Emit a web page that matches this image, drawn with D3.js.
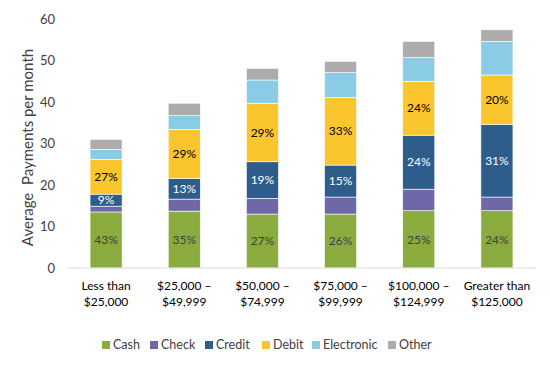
<!DOCTYPE html>
<html>
<head>
<meta charset="utf-8">
<script src="https://cdn.jsdelivr.net/npm/d3@7"></script>
<style>
  body { margin: 0; background: #fff; }
  text { font-family: Lato, "Noto Sans", sans-serif; }
</style>
</head>
<body>
<div id="chart"></div>
<script>
// income groups (two label lines each)
var categories = ["Less than|$25,000", "$25,000 –|$49,999", "$50,000 –|$74,999",
                  "$75,000 –|$99,999", "$100,000 –|$124,999", "Greater than|$125,000"];
var seriesNames = ["Cash", "Check", "Credit", "Debit", "Electronic", "Other"];
var colors = ["#8aac3e", "#6e68a9", "#2e5d8b", "#fbc52d", "#8acce6", "#acacac"];

var cash       = [13.5, 13.7, 13.0, 13.0, 13.8, 13.8];
var check      = [1.4, 2.9, 3.8, 4.1, 5.2, 3.3];
var credit     = [2.9, 5.0, 8.8, 7.7, 13.0, 17.5];
var debit      = [8.4, 11.8, 14.1, 16.3, 13.0, 11.9];
var electronic = [2.4, 3.3, 5.6, 6.0, 5.7, 8.1];
var other      = [2.4, 3.0, 2.8, 2.7, 3.9, 2.8];

var cashPct   = ["43%", "35%", "27%", "26%", "25%", "24%"];
var creditPct = ["9%", "13%", "19%", "15%", "24%", "31%"];
var debitPct  = ["27%", "29%", "29%", "33%", "24%", "20%"];
var yTicks = [0, 10, 20, 30, 40, 50, 60];

var W = 550, H = 365;
var margin = {top: 19, right: 14, bottom: 97, left: 67};

var svg = d3.select("#chart").append("svg").attr("width", W).attr("height", H);

var rows = categories.map(function(c, i) {
  return {cat: c, Cash: cash[i], Check: check[i], Credit: credit[i], Debit: debit[i],
          Electronic: electronic[i], Other: other[i],
          cashPct: cashPct[i], creditPct: creditPct[i], debitPct: debitPct[i]};
});

var x = d3.scaleBand().domain(categories)
  .range([margin.left, W - margin.right]).paddingInner(0.59).paddingOuter(0.295);
var y = d3.scaleLinear().domain([0, 60]).range([H - margin.bottom, margin.top]);

var stack = d3.stack().keys(seriesNames)(rows);

// y axis labels
svg.append("g").selectAll("text").data(yTicks).enter().append("text")
  .attr("x", 55).attr("y", function(d) { return y(d); })
  .attr("dy", "0.35em").attr("text-anchor", "end")
  .attr("font-size", 13).attr("fill", "#404040")
  .text(function(d) { return d; });

svg.append("text")
  .attr("transform", "translate(33," + ((y(0) + y(60)) / 2 + 4) + ") rotate(-90)")
  .attr("text-anchor", "middle").attr("font-size", 15).attr("fill", "#404040")
  .attr("xml:space", "preserve")
  .text("Average  Payments per month");

// stacked bars
var layers = svg.append("g").selectAll("g").data(stack).enter().append("g")
  .attr("fill", function(d, i) { return colors[i]; });

layers.selectAll("rect").data(function(d) { return d; }).enter().append("rect")
  .attr("x", function(d) { return x(d.data.cat); })
  .attr("width", x.bandwidth())
  .attr("y", function(d) { return y(d[1]); })
  .attr("height", function(d) { return y(d[0]) - y(d[1]); })
  .attr("stroke", "#fff").attr("stroke-width", 0.6);

// baseline
svg.append("line")
  .attr("x1", margin.left).attr("x2", W - margin.right)
  .attr("y1", y(0)).attr("y2", y(0))
  .attr("stroke", "#d9d9d9").attr("stroke-width", 1);

// percentage labels
var pctSpecs = [
  {key: "Cash", idx: 0, field: "cashPct", color: "#404040"},
  {key: "Credit", idx: 2, field: "creditPct", color: "#fff"},
  {key: "Debit", idx: 3, field: "debitPct", color: "#000"}
];
pctSpecs.forEach(function(s) {
  svg.append("g").selectAll("text").data(stack[s.idx]).enter().append("text")
    .attr("x", function(d) { return x(d.data.cat) + x.bandwidth() / 2; })
    .attr("y", function(d) { return (y(d[0]) + y(d[1])) / 2; })
    .attr("dy", "0.35em").attr("text-anchor", "middle")
    .attr("font-size", 12).attr("fill", s.color)
    .text(function(d) { return d.data[s.field]; });
});

// totals
var top = stack[stack.length - 1];
svg.append("g").selectAll("text").data(top).enter().append("text")
  .attr("x", function(d) { return x(d.data.cat) + x.bandwidth() / 2; })
  .attr("y", function(d) { return y(d[1]) - 9; })
  .attr("text-anchor", "middle").attr("font-size", 12).attr("fill", "#404040")
  .text(function(d) { return Math.round(d[1]); });

// category labels
var catG = svg.append("g").selectAll("text").data(categories).enter().append("text")
  .attr("text-anchor", "middle").attr("font-size", 12).attr("fill", "#000");
catG.each(function(c) {
  var parts = c.split("|");
  var t = d3.select(this);
  parts.forEach(function(p, j) {
    t.append("tspan").attr("x", x(c) + x.bandwidth() / 2)
      .attr("y", 290 + j * 16).text(p);
  });
});

// legend
var legendX = [102, 150, 205, 262, 312, 388];
var leg = svg.append("g").selectAll("g").data(seriesNames).enter().append("g")
  .attr("transform", function(d, i) { return "translate(" + legendX[i] + ",341)"; });
leg.append("rect").attr("width", 8).attr("height", 8)
  .attr("fill", function(d, i) { return colors[i]; });
leg.append("text").attr("x", 11).attr("y", 4).attr("dy", "0.35em")
  .attr("font-size", 12.5).attr("fill", "#404040")
  .text(function(d) { return d; });
</script>
</body>
</html>
